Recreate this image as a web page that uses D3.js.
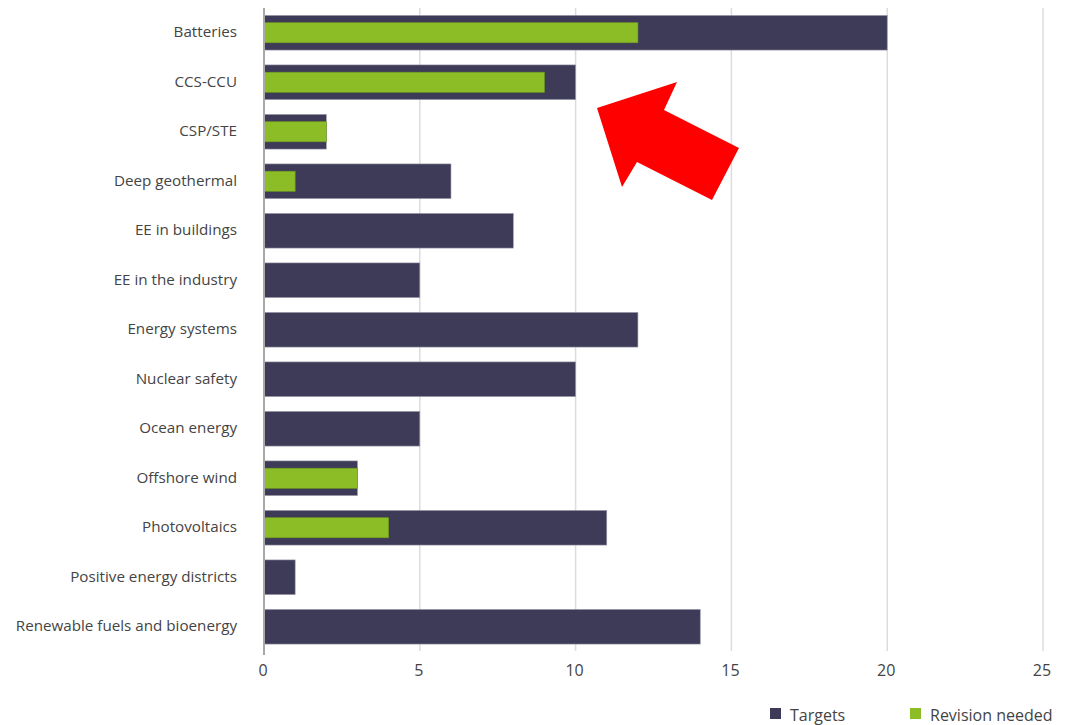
<!DOCTYPE html>
<html>
<head>
<meta charset="utf-8">
<script src="https://cdn.jsdelivr.net/npm/d3@7"></script>
<style>
  body { margin: 0; background: #fff; }
  svg { display: block; font-family: "Open Sans", "Liberation Sans", sans-serif; }
</style>
</head>
<body>
<div id="chart"></div>
<script>
// categories and the two series
const categories = [
  "Batteries", "CCS-CCU", "CSP/STE", "Deep geothermal", "EE in buildings",
  "EE in the industry", "Energy systems", "Nuclear safety", "Ocean energy",
  "Offshore wind", "Photovoltaics", "Positive energy districts",
  "Renewable fuels and bioenergy"
];
const targets = [20, 10, 2, 6, 8, 5, 12, 10, 5, 3, 11, 1, 14];
const revisionNeeded = [12, 9, 2, 1, 0, 0, 0, 0, 0, 3, 4, 0, 0];
const xTicks = [0, 5, 10, 15, 20, 25];

const width = 1070, height = 725;
const dark = "#3d3b58", green = "#8cbd27";

const svg = d3.select("#chart").append("svg")
  .attr("width", width)
  .attr("height", height);

const x = d3.scaleLinear().domain([0, 25]).range([264, 1043]);
const y = d3.scaleBand().domain(categories).range([8, 651.5])
  .paddingInner(0.3).paddingOuter(0.15);

// grid lines
svg.append("g")
  .selectAll("line")
  .data(xTicks.slice(1))
  .enter().append("line")
  .attr("x1", d => x(d)).attr("x2", d => x(d))
  .attr("y1", 8).attr("y2", 651)
  .attr("stroke", "#dcdcdc")
  .attr("stroke-width", 1.5);

// target bars
svg.append("g")
  .selectAll("rect")
  .data(categories)
  .enter().append("rect")
  .attr("x", x(0))
  .attr("y", d => y(d))
  .attr("width", (d, i) => x(targets[i]) - x(0))
  .attr("height", y.bandwidth())
  .attr("fill", dark)
  .attr("stroke", "#9a99aa")
  .attr("stroke-width", 0.6);

// revision bars (narrower, centred in the band)
const gh = y.bandwidth() * 0.58;
svg.append("g")
  .selectAll("rect")
  .data(categories.filter((d, i) => revisionNeeded[i] > 0))
  .enter().append("rect")
  .attr("x", x(0))
  .attr("y", d => y(d) + (y.bandwidth() - gh) / 2)
  .attr("width", d => x(revisionNeeded[categories.indexOf(d)]) - x(0))
  .attr("height", gh)
  .attr("fill", green)
  .attr("stroke", "#6f9a1c")
  .attr("stroke-width", 0.6);

// y axis line
svg.append("line")
  .attr("x1", x(0)).attr("x2", x(0))
  .attr("y1", 8).attr("y2", 655)
  .attr("stroke", "#a8a8a8")
  .attr("stroke-width", 2);

// category labels
svg.append("g")
  .selectAll("text")
  .data(categories)
  .enter().append("text")
  .attr("x", 237)
  .attr("y", d => y(d) + y.bandwidth() / 2 - 1)
  .attr("dy", "0.35em")
  .attr("text-anchor", "end")
  .attr("font-size", 15.2)
  .attr("fill", "#444")
  .text(d => d);

// x tick labels
svg.append("g")
  .selectAll("text")
  .data(xTicks)
  .enter().append("text")
  .attr("x", d => x(d) - 1)
  .attr("y", 670)
  .attr("dy", "0.35em")
  .attr("text-anchor", "middle")
  .attr("font-size", 16)
  .attr("fill", "#444")
  .text(d => d);

// legend
const legend = [["Targets", dark, 770], ["Revision needed", green, 910]];
const lg = svg.append("g").selectAll("g").data(legend).enter().append("g");
lg.append("rect")
  .attr("x", d => d[2]).attr("y", 708)
  .attr("width", 11).attr("height", 11)
  .attr("fill", d => d[1]);
lg.append("text")
  .attr("x", d => d[2] + 20).attr("y", 715)
  .attr("dy", "0.35em")
  .attr("font-size", 16)
  .attr("fill", "#444")
  .text(d => d[0]);

// red arrow annotation
const arrow = [[597, 108], [677, 82], [664, 110], [739, 148], [712, 200], [637, 162], [622, 187]];
svg.append("polygon")
  .attr("points", arrow.map(p => p.join(",")).join(" "))
  .attr("fill", "#ff0000");
</script>
</body>
</html>
